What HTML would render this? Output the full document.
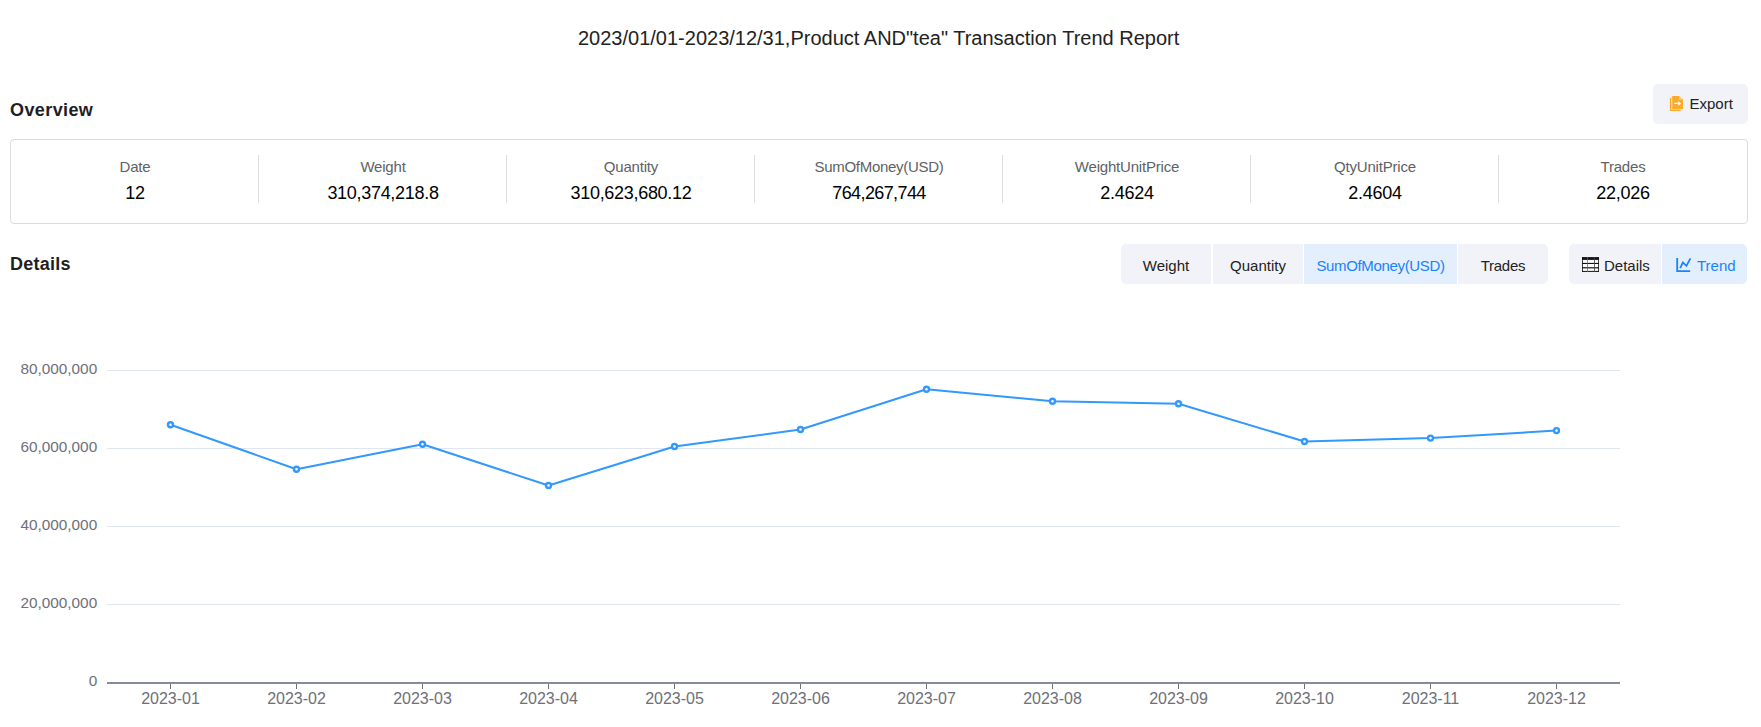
<!DOCTYPE html>
<html><head><meta charset="utf-8">
<style>
html,body{margin:0;padding:0;background:#fff;width:1761px;height:727px;overflow:hidden;position:relative;font-family:"Liberation Sans",sans-serif;}
.t{position:absolute;white-space:nowrap;line-height:1;}
.title{left:578px;top:27.8px;font-size:20px;color:#222;}
.h{font-size:18px;font-weight:700;color:#1f1f1f;}
.export{position:absolute;left:1653px;top:84px;width:95px;height:40px;background:#f2f3f8;border-radius:5px;}
.box{position:absolute;left:10px;top:139px;width:1736px;height:83px;border:1px solid #dcdcdc;border-radius:4px;}
.col{position:absolute;top:0;width:248px;height:83px;}
.col .lb{position:absolute;left:0;width:248px;text-align:center;top:19.3px;font-size:15px;line-height:15px;color:#606266;letter-spacing:-0.2px;}
.col .v{position:absolute;left:0;width:248px;text-align:center;top:43.8px;font-size:18px;line-height:18px;color:#000;letter-spacing:-0.3px;}
.div{position:absolute;top:15px;width:1px;height:48px;background:#dcdcdc;}
.tab{position:absolute;top:244px;height:40px;background:#f2f3f8;}
.tab span{position:absolute;left:0;right:0;text-align:center;top:14.1px;font-size:15px;line-height:15px;color:#222;white-space:nowrap;}
.tab.on{background:#e3effd;}
.tab.on span{color:#1a82fa;}
</style></head><body>
<div class="t title">2023/01/01-2023/12/31,Product AND"tea" Transaction Trend Report</div>

<div class="t h" style="left:10px;top:100.8px;letter-spacing:0.4px">Overview</div>

<div class="export"></div>
<div class="t" style="left:1689.5px;top:96.3px;font-size:15px;color:#222;">Export</div>

<div class="box">
  <div class="col" style="left:0"><div class="lb">Date</div><div class="v">12</div></div>
  <div class="div" style="left:247px"></div>
  <div class="col" style="left:248px"><div class="lb">Weight</div><div class="v">310,374,218.8</div></div>
  <div class="div" style="left:495px"></div>
  <div class="col" style="left:496px"><div class="lb">Quantity</div><div class="v">310,623,680.12</div></div>
  <div class="div" style="left:743px"></div>
  <div class="col" style="left:744px"><div class="lb" style="letter-spacing:-0.3px">SumOfMoney(USD)</div><div class="v" style="letter-spacing:-0.6px">764,267,744</div></div>
  <div class="div" style="left:991px"></div>
  <div class="col" style="left:992px"><div class="lb">WeightUnitPrice</div><div class="v">2.4624</div></div>
  <div class="div" style="left:1239px"></div>
  <div class="col" style="left:1240px"><div class="lb">QtyUnitPrice</div><div class="v">2.4604</div></div>
  <div class="div" style="left:1487px"></div>
  <div class="col" style="left:1488px"><div class="lb">Trades</div><div class="v">22,026</div></div>
</div>

<div class="t h" style="left:10px;top:254.5px;letter-spacing:0.25px">Details</div>

<div class="tab" style="left:1121px;width:90px;border-radius:5px 0 0 5px;"><span>Weight</span></div>
<div class="tab" style="left:1213px;width:90px;"><span>Quantity</span></div>
<div class="tab on" style="left:1304px;width:153px;"><span style="letter-spacing:-0.35px">SumOfMoney(USD)</span></div>
<div class="tab" style="left:1458px;width:90px;border-radius:0 5px 5px 0;"><span style="letter-spacing:-0.25px">Trades</span></div>

<div class="tab" style="left:1569px;width:92px;border-radius:5px 0 0 5px;"><span style="left:35px;right:auto;text-align:left">Details</span></div>
<div class="tab on" style="left:1662px;width:85px;border-radius:0 5px 5px 0;"><span style="left:35px;right:auto;text-align:left">Trend</span></div>


<svg style="position:absolute;left:1669px;top:95px" width="16" height="17" viewBox="0 0 16 17">
<path d="M0.9,3 H2.3 V14.8 H11.6 V16.1 H0.9 Z" fill="#fcaa2c"/>
<path d="M3.2,1 H10.2 L14,4.6 V14.2 H3.2 Z" fill="#fcaa2c"/>
<path d="M10.3,1 V4.5 H14 Z" fill="#fdd591"/>
<path d="M5.3,7.8 H9.2 V6.3 L12.3,8.5 L9.2,10.7 V9.1 H5.3 Z" fill="#fff"/>
</svg>
<svg style="position:absolute;left:1582px;top:257px" width="17" height="15" viewBox="0 0 17 15">
<rect x="0" y="0" width="17" height="15" fill="#fff"/>
<rect x="0" y="0.1" width="17" height="2.8" fill="#111"/>
<rect x="0" y="5.9" width="17" height="1.1" fill="#111"/>
<rect x="0" y="10.2" width="17" height="1.2" fill="#111"/>
<rect x="0" y="13.9" width="17" height="1" fill="#111"/>
<rect x="0.1" y="0" width="0.8" height="15" fill="#111"/>
<rect x="16.2" y="0" width="0.8" height="15" fill="#111"/>
<rect x="5.3" y="0" width="0.7" height="15" fill="#666"/>
<rect x="12.2" y="0" width="0.8" height="15" fill="#444"/>
</svg>
<svg style="position:absolute;left:1676px;top:257px" width="16" height="16" viewBox="0 0 16 16">
<path d="M1.2,0.9 V14.1 H14.2" fill="none" stroke="#1a82fa" stroke-width="1.8"/>
<path d="M4.2,11.1 L6.9,5.4 L10.45,8.8 L14.4,1.4" fill="none" stroke="#1a82fa" stroke-width="1.8" stroke-linejoin="miter"/>
</svg>
<svg style="position:absolute;left:0;top:0" width="1761" height="727">
<rect x="107" y="370" width="1513" height="1" fill="#e0e6f1"/>
<rect x="107" y="448" width="1513" height="1" fill="#e0e6f1"/>
<rect x="107" y="526" width="1513" height="1" fill="#e0e6f1"/>
<rect x="107" y="604" width="1513" height="1" fill="#e0e6f1"/>
<rect x="107" y="682" width="1513" height="2" fill="#878b97"/>
<rect x="170" y="684" width="1" height="5" fill="#6e7079"/>
<rect x="296" y="684" width="1" height="5" fill="#6e7079"/>
<rect x="422" y="684" width="1" height="5" fill="#6e7079"/>
<rect x="548" y="684" width="1" height="5" fill="#6e7079"/>
<rect x="674" y="684" width="1" height="5" fill="#6e7079"/>
<rect x="800" y="684" width="1" height="5" fill="#6e7079"/>
<rect x="926" y="684" width="1" height="5" fill="#6e7079"/>
<rect x="1052" y="684" width="1" height="5" fill="#6e7079"/>
<rect x="1178" y="684" width="1" height="5" fill="#6e7079"/>
<rect x="1304" y="684" width="1" height="5" fill="#6e7079"/>
<rect x="1430" y="684" width="1" height="5" fill="#6e7079"/>
<rect x="1556" y="684" width="1" height="5" fill="#6e7079"/>
<text x="97.2" y="373.9" text-anchor="end" fill="#6e7079" font-size="15.35" font-family="Liberation Sans">80,000,000</text>
<text x="97.2" y="451.9" text-anchor="end" fill="#6e7079" font-size="15.35" font-family="Liberation Sans">60,000,000</text>
<text x="97.2" y="529.9" text-anchor="end" fill="#6e7079" font-size="15.35" font-family="Liberation Sans">40,000,000</text>
<text x="97.2" y="607.9" text-anchor="end" fill="#6e7079" font-size="15.35" font-family="Liberation Sans">20,000,000</text>
<text x="97.2" y="685.9" text-anchor="end" fill="#6e7079" font-size="15.35" font-family="Liberation Sans">0</text>
<text x="170.5" y="703.7" text-anchor="middle" fill="#6e7079" font-size="16.0" font-family="Liberation Sans">2023-01</text>
<text x="296.5" y="703.7" text-anchor="middle" fill="#6e7079" font-size="16.0" font-family="Liberation Sans">2023-02</text>
<text x="422.5" y="703.7" text-anchor="middle" fill="#6e7079" font-size="16.0" font-family="Liberation Sans">2023-03</text>
<text x="548.5" y="703.7" text-anchor="middle" fill="#6e7079" font-size="16.0" font-family="Liberation Sans">2023-04</text>
<text x="674.5" y="703.7" text-anchor="middle" fill="#6e7079" font-size="16.0" font-family="Liberation Sans">2023-05</text>
<text x="800.5" y="703.7" text-anchor="middle" fill="#6e7079" font-size="16.0" font-family="Liberation Sans">2023-06</text>
<text x="926.5" y="703.7" text-anchor="middle" fill="#6e7079" font-size="16.0" font-family="Liberation Sans">2023-07</text>
<text x="1052.5" y="703.7" text-anchor="middle" fill="#6e7079" font-size="16.0" font-family="Liberation Sans">2023-08</text>
<text x="1178.5" y="703.7" text-anchor="middle" fill="#6e7079" font-size="16.0" font-family="Liberation Sans">2023-09</text>
<text x="1304.5" y="703.7" text-anchor="middle" fill="#6e7079" font-size="16.0" font-family="Liberation Sans">2023-10</text>
<text x="1430.5" y="703.7" text-anchor="middle" fill="#6e7079" font-size="16.0" font-family="Liberation Sans">2023-11</text>
<text x="1556.5" y="703.7" text-anchor="middle" fill="#6e7079" font-size="16.0" font-family="Liberation Sans">2023-12</text>
<path d="M170.5,424.8 L296.5,469.2 L422.5,444.2 L548.5,485.5 L674.5,446.5 L800.5,429.5 L926.5,389.2 L1052.5,401.3 L1178.5,403.7 L1304.5,441.5 L1430.5,438.1 L1556.5,430.6" fill="none" stroke="#3398fc" stroke-width="2" stroke-linejoin="round"/>
<circle cx="170.5" cy="424.8" r="2.5" fill="#fff" stroke="#3398fc" stroke-width="2.4"/>
<circle cx="296.5" cy="469.2" r="2.5" fill="#fff" stroke="#3398fc" stroke-width="2.4"/>
<circle cx="422.5" cy="444.2" r="2.5" fill="#fff" stroke="#3398fc" stroke-width="2.4"/>
<circle cx="548.5" cy="485.5" r="2.5" fill="#fff" stroke="#3398fc" stroke-width="2.4"/>
<circle cx="674.5" cy="446.5" r="2.5" fill="#fff" stroke="#3398fc" stroke-width="2.4"/>
<circle cx="800.5" cy="429.5" r="2.5" fill="#fff" stroke="#3398fc" stroke-width="2.4"/>
<circle cx="926.5" cy="389.2" r="2.5" fill="#fff" stroke="#3398fc" stroke-width="2.4"/>
<circle cx="1052.5" cy="401.3" r="2.5" fill="#fff" stroke="#3398fc" stroke-width="2.4"/>
<circle cx="1178.5" cy="403.7" r="2.5" fill="#fff" stroke="#3398fc" stroke-width="2.4"/>
<circle cx="1304.5" cy="441.5" r="2.5" fill="#fff" stroke="#3398fc" stroke-width="2.4"/>
<circle cx="1430.5" cy="438.1" r="2.5" fill="#fff" stroke="#3398fc" stroke-width="2.4"/>
<circle cx="1556.5" cy="430.6" r="2.5" fill="#fff" stroke="#3398fc" stroke-width="2.4"/>
</svg>
</body></html>
